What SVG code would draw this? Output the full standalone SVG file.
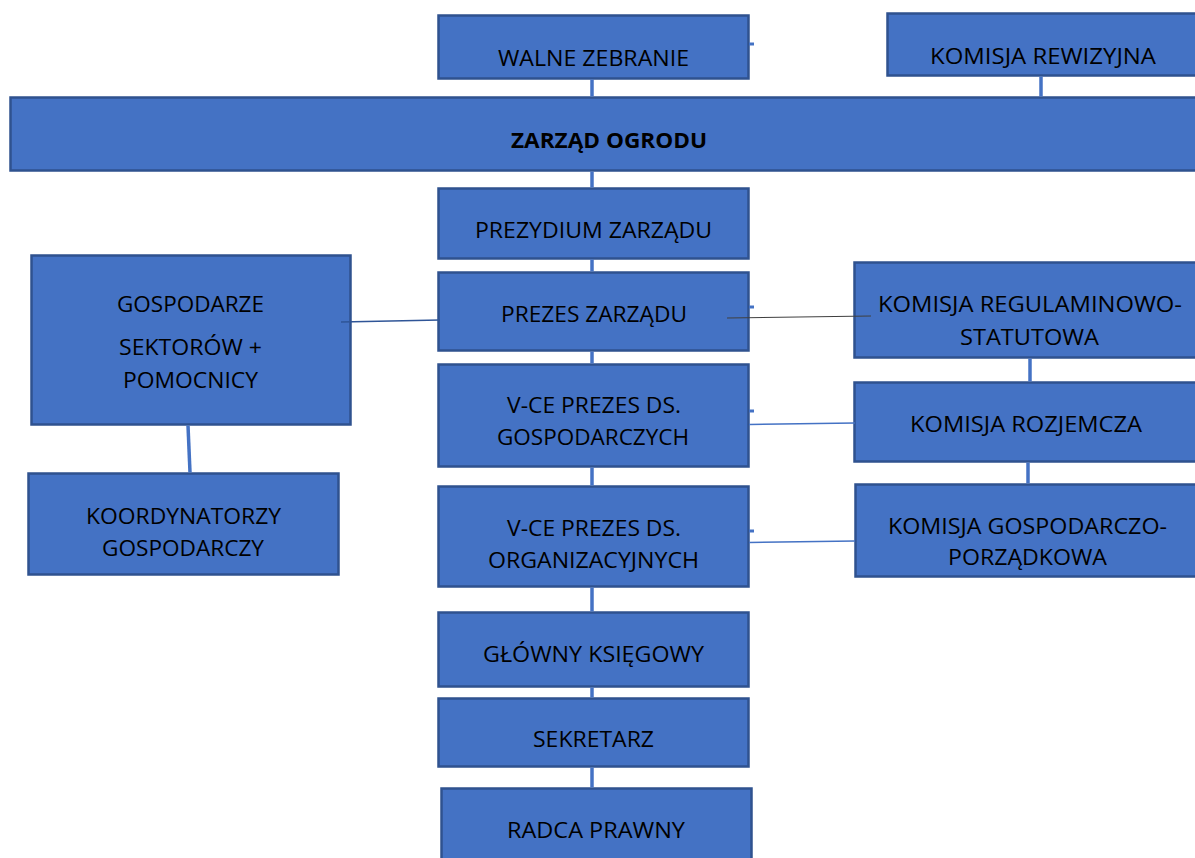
<svg xmlns="http://www.w3.org/2000/svg" width="1195" height="858" viewBox="0 0 1195 858">
<style>
.box{fill:#4472C4;stroke:#2F528F;stroke-width:2.5}
.t{font-family:"Open Sans","Liberation Sans",sans-serif;font-size:22px;fill:#000;text-anchor:start}
.b{font-weight:bold}
.v{stroke:#4472C4;stroke-width:3.5;fill:none}
.thin{stroke:#4472C4;stroke-width:1.5;fill:none}
.dk{stroke:#2F5597;stroke-width:1.3;fill:none}
.gr{stroke:#404040;stroke-width:1.2;fill:none}
.dash{stroke:#4472C4;stroke-width:3;fill:none}
</style>
<rect width="1195" height="858" fill="#fff"/>
<g id="walne"><rect class="box" x="438.5" y="15.5" width="310" height="63"/><text class="t" x="498" y="66" textLength="191" lengthAdjust="spacingAndGlyphs">WALNE ZEBRANIE</text></g>
<g id="rewizyjna"><rect class="box" x="887.5" y="13.5" width="320" height="62"/><text class="t" x="930" y="64" textLength="226" lengthAdjust="spacingAndGlyphs">KOMISJA REWIZYJNA</text></g>
<g id="zarzad"><rect class="box" x="10.5" y="97.5" width="1200" height="73"/><text class="t b" x="511" y="148" textLength="196" lengthAdjust="spacingAndGlyphs">ZARZĄD OGRODU</text></g>
<g id="prezydium"><rect class="box" x="438.5" y="188.5" width="310" height="70"/><text class="t" x="475" y="238" textLength="237" lengthAdjust="spacingAndGlyphs">PREZYDIUM ZARZĄDU</text></g>
<g id="prezes"><rect class="box" x="438.5" y="272.5" width="310" height="78"/><text class="t" x="501" y="322" textLength="186" lengthAdjust="spacingAndGlyphs">PREZES ZARZĄDU</text></g>
<g id="vce-gosp"><rect class="box" x="438.5" y="364.5" width="310" height="102"/><text class="t" x="507" y="413" textLength="174" lengthAdjust="spacingAndGlyphs">V-CE PREZES DS.</text><text class="t" x="497" y="445" textLength="192" lengthAdjust="spacingAndGlyphs">GOSPODARCZYCH</text></g>
<g id="vce-org"><rect class="box" x="438.5" y="486.5" width="310" height="100"/><text class="t" x="507" y="536" textLength="174" lengthAdjust="spacingAndGlyphs">V-CE PREZES DS.</text><text class="t" x="488" y="568" textLength="211" lengthAdjust="spacingAndGlyphs">ORGANIZACYJNYCH</text></g>
<g id="ksiegowy"><rect class="box" x="438.5" y="612.5" width="310" height="74"/><text class="t" x="483" y="662" textLength="221" lengthAdjust="spacingAndGlyphs">GŁÓWNY KSIĘGOWY</text></g>
<g id="sekretarz"><rect class="box" x="438.5" y="698.5" width="310" height="68"/><text class="t" x="533" y="747" textLength="121" lengthAdjust="spacingAndGlyphs">SEKRETARZ</text></g>
<g id="radca"><rect class="box" x="441.5" y="788.5" width="310" height="80"/><text class="t" x="507" y="838" textLength="178" lengthAdjust="spacingAndGlyphs">RADCA PRAWNY</text></g>
<g id="gospodarze"><rect class="box" x="31.5" y="255.5" width="319" height="169"/><text class="t" x="117" y="312" textLength="147" lengthAdjust="spacingAndGlyphs">GOSPODARZE</text><text class="t" x="119" y="355" textLength="143" lengthAdjust="spacingAndGlyphs">SEKTORÓW +</text><text class="t" x="123" y="388" textLength="135" lengthAdjust="spacingAndGlyphs">POMOCNICY</text></g>
<g id="koordynatorzy"><rect class="box" x="28.5" y="473.5" width="310" height="101"/><text class="t" x="86" y="524" textLength="195" lengthAdjust="spacingAndGlyphs">KOORDYNATORZY</text><text class="t" x="102" y="556" textLength="162" lengthAdjust="spacingAndGlyphs">GOSPODARCZY</text></g>
<g id="kom-reg"><rect class="box" x="854.5" y="262.5" width="360" height="95"/><text class="t" x="878" y="312" textLength="304" lengthAdjust="spacingAndGlyphs">KOMISJA REGULAMINOWO-</text><text class="t" x="960" y="345" textLength="139" lengthAdjust="spacingAndGlyphs">STATUTOWA</text></g>
<g id="kom-roz"><rect class="box" x="854.5" y="382.5" width="360" height="79"/><text class="t" x="910" y="432" textLength="232" lengthAdjust="spacingAndGlyphs">KOMISJA ROZJEMCZA</text></g>
<g id="kom-gosp"><rect class="box" x="855.5" y="484.5" width="360" height="92"/><text class="t" x="888" y="534" textLength="279" lengthAdjust="spacingAndGlyphs">KOMISJA GOSPODARCZO-</text><text class="t" x="948" y="565" textLength="159" lengthAdjust="spacingAndGlyphs">PORZĄDKOWA</text></g>
<g id="connectors">
<line class="v" x1="592" y1="79.5" x2="592" y2="96.5"/>
<line class="v" x1="1041" y1="76.5" x2="1041" y2="96.5"/>
<line class="v" x1="592" y1="171.5" x2="592" y2="187.5"/>
<line class="v" x1="592" y1="259.5" x2="592" y2="271.5"/>
<line class="v" x1="592" y1="351.5" x2="592" y2="363.5"/>
<line class="v" x1="592" y1="467.5" x2="592" y2="485.5"/>
<line class="v" x1="592" y1="587.5" x2="592" y2="611.5"/>
<line class="v" x1="592" y1="687.5" x2="592" y2="697.5"/>
<line class="v" x1="592" y1="767.5" x2="592" y2="787.5"/>
<line class="v" x1="188" y1="425.5" x2="190" y2="472.5"/>
<line class="v" x1="1030" y1="358.5" x2="1030" y2="381.5"/>
<line class="v" x1="1028" y1="462.5" x2="1028" y2="483.5"/>
<line class="dk" x1="341" y1="322" x2="440" y2="320"/>
<line class="gr" x1="727" y1="318" x2="871" y2="316"/>
<line class="thin" x1="749" y1="424.5" x2="855" y2="423"/>
<line class="thin" x1="749" y1="542.5" x2="855" y2="541"/>
<line class="dash" x1="749" y1="44" x2="754" y2="44"/>
<line class="dash" x1="749" y1="307" x2="754" y2="307"/>
<line class="dash" x1="749" y1="411" x2="754" y2="411"/>
<line class="dash" x1="749" y1="531" x2="754" y2="531"/>
</g>
</svg>
